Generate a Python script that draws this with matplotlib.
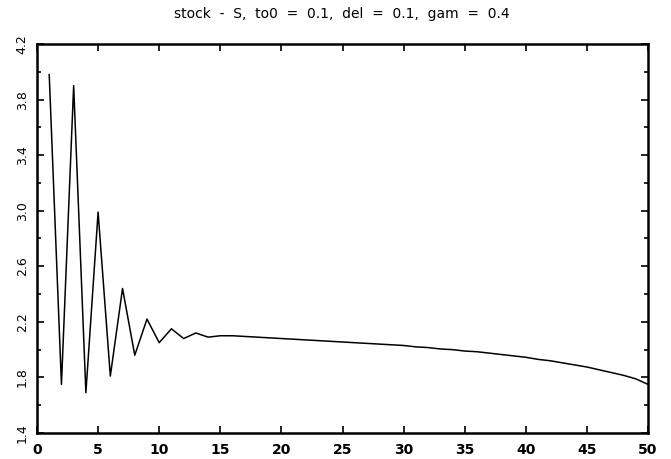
import matplotlib
matplotlib.use("Agg")
import matplotlib.pyplot as plt
from matplotlib.ticker import MultipleLocator

# time index
t = list(range(1, 51))
# stock S values
stock = [3.98, 1.75, 3.90, 1.69, 2.99, 1.81, 2.44, 1.96, 2.22, 2.05,
         2.15, 2.08, 2.12, 2.09, 2.10, 2.10, 2.095, 2.09, 2.085, 2.08,
         2.075, 2.07, 2.065, 2.06, 2.055, 2.05, 2.045, 2.04, 2.035, 2.03,
         2.02, 2.015, 2.005, 2.00, 1.99, 1.985, 1.975, 1.965, 1.955, 1.945,
         1.93, 1.92, 1.905, 1.89, 1.875, 1.855, 1.835, 1.815, 1.79, 1.75]

x_ticks = [0, 5, 10, 15, 20, 25, 30, 35, 40, 45, 50]
y_ticks = [1.4, 1.8, 2.2, 2.6, 3.0, 3.4, 3.8, 4.2]
y_labels = ["1.4", "1.8", "2.2", "2.6", "3.0", "3.4", "3.8", "4.2"]
title = "stock  -  S,  to0  =  0.1,  del  =  0.1,  gam  =  0.4"

fig = plt.figure(figsize=(6.71, 4.59), dpi=100)
ax = fig.add_axes([37/671, 1-433/459, (648-37)/671, (433-44)/459])

ax.plot(t, stock, color="black", linewidth=1.1)

ax.set_xlim(0, 50)
ax.set_ylim(1.4, 4.2)
ax.set_xticks(x_ticks)
ax.set_xticklabels([str(v) for v in x_ticks], fontsize=10, fontweight="bold")
ax.set_yticks(y_ticks)
ax.set_yticklabels(y_labels, fontsize=9, rotation=90, va="center")
ax.yaxis.set_minor_locator(MultipleLocator(0.2))

ax.tick_params(axis="both", which="both", direction="in",
               top=True, right=True, width=1.2, color="black")
ax.tick_params(axis="x", which="major", length=5, pad=7)
ax.tick_params(axis="y", which="major", length=5, pad=6)
ax.tick_params(axis="y", which="minor", length=3)

for s in ax.spines.values():
    s.set_linewidth(1.8)
    s.set_color("black")

fig.text(342/671, 1-14/459, title, ha="center", va="center", fontsize=10)

fig.savefig("out.png", dpi=100)
